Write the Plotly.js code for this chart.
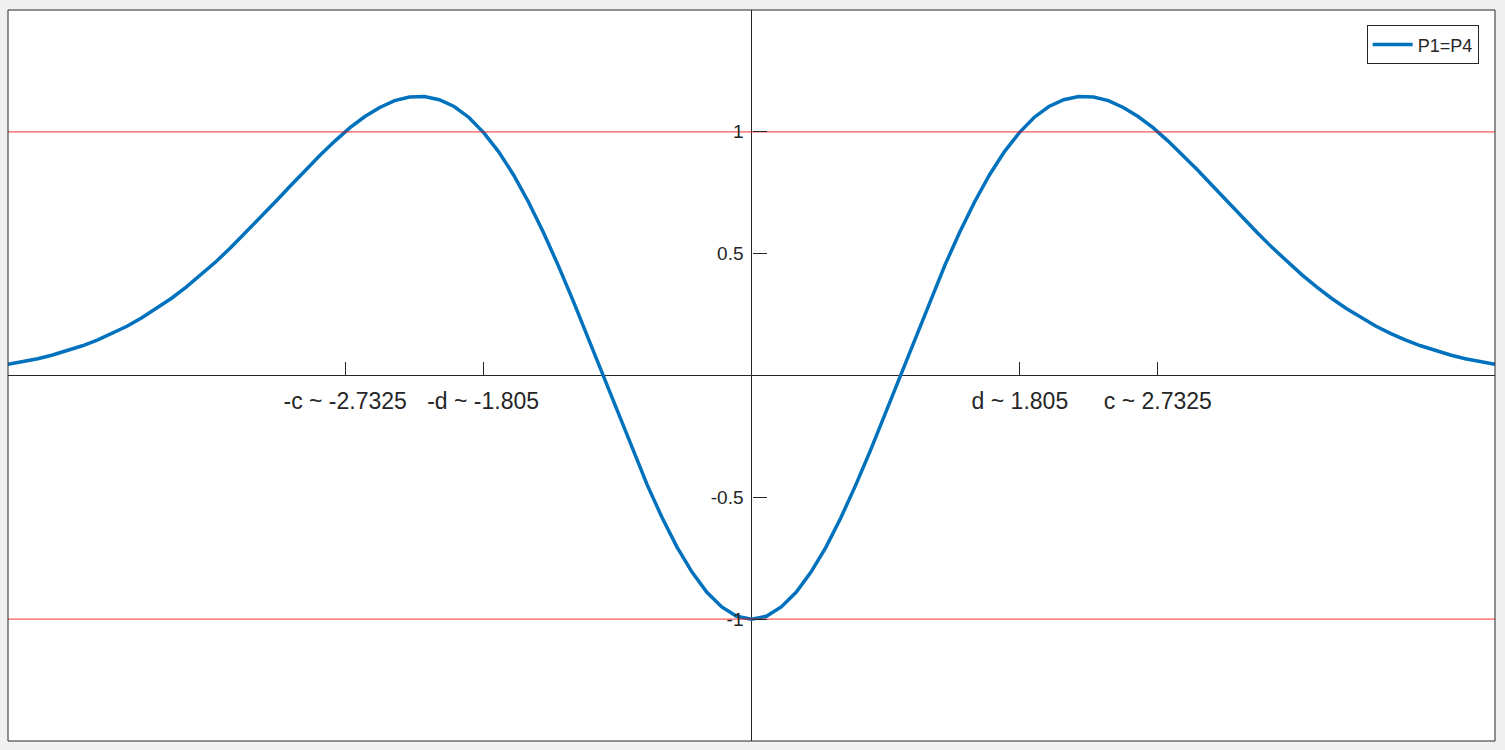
<!DOCTYPE html>
<html>
<head>
<meta charset="utf-8">
<script src="https://cdn.plot.ly/plotly-3.0.1.min.js"></script>
<style>
  body { margin: 0; background: #f0f0f0; }
  #plot { width: 1505px; height: 750px; }
</style>
</head>
<body>
<div id="plot"></div>
<script>
// sample points of the curve, x from 0 to 5 in steps of 0.1
var xPos = [0, 0.1, 0.2, 0.3, 0.4, 0.5, 0.6, 0.7, 0.8, 0.9,
            1.0, 1.1, 1.2, 1.3, 1.4, 1.5, 1.6, 1.7, 1.8, 1.9,
            2.0, 2.1, 2.2, 2.3, 2.4, 2.5, 2.6, 2.7, 2.8, 2.9,
            3.0, 3.1, 3.2, 3.3, 3.4, 3.5, 3.6, 3.7, 3.8, 3.9,
            4.0, 4.1, 4.2, 4.3, 4.4, 4.5, 4.6, 4.7, 4.8, 4.9, 5.0];
var yPos = [-1.000, -0.988, -0.950, -0.890, -0.807, -0.705, -0.585, -0.451, -0.307, -0.155,
            0.000, 0.155, 0.307, 0.452, 0.588, 0.712, 0.823, 0.918, 0.996, 1.059,
            1.104, 1.132, 1.145, 1.143, 1.128, 1.100, 1.063, 1.017, 0.963, 0.905,
            0.843, 0.779, 0.714, 0.650, 0.587, 0.526, 0.468, 0.414, 0.364, 0.317,
            0.275, 0.237, 0.202, 0.172, 0.145, 0.122, 0.102, 0.084, 0.069, 0.057, 0.046];

// curve is symmetric, mirror the right half onto the left
var xs = [], ys = [];
for (var i = xPos.length - 1; i > 0; i--) { xs.push(-xPos[i]); ys.push(yPos[i]); }
for (var j = 0; j < xPos.length; j++) { xs.push(xPos[j]); ys.push(yPos[j]); }

var refLevels = [1, -1];
var xTickVals = [-2.7325, -1.805, 1.805, 2.7325];
var xTickText = ['-c ~ -2.7325', '-d ~ -1.805', 'd ~ 1.805', 'c ~ 2.7325'];
var yTickVals = [-1, -0.5, 0.5, 1];
var yTickText = ['-1', '-0.5', '0.5', '1'];

var curve = {
    name: 'P1=P4',
    x: xs,
    y: ys,
    mode: 'lines',
    line: { color: '#0072BD', width: 3.5 }
};

var data = [curve];
refLevels.forEach(function(v) {
    data.push({
        x: [-5, 5],
        y: [v, v],
        mode: 'lines',
        showlegend: false,
        hoverinfo: 'skip',
        line: { color: 'rgba(255,0,0,0.65)', width: 1.3 }
    });
});

var layout = {
    width: 1505,
    height: 750,
    margin: { l: 8, r: 10, t: 10, b: 9 },
    paper_bgcolor: '#f0f0f0',
    plot_bgcolor: 'white',
    font: { family: 'Liberation Sans, Arial, sans-serif', color: '#262626' },
    showlegend: true,
    legend: {
        x: 0.989, y: 0.979,
        xanchor: 'right', yanchor: 'top',
        bgcolor: 'white',
        bordercolor: '#262626',
        borderwidth: 1,
        font: { size: 18, color: '#262626' },
        itemwidth: 40,
        tracegroupgap: 0
    },
    xaxis: {
        range: [-5, 5],
        anchor: 'free',
        position: 0.5,
        showgrid: false,
        showline: false,
        zeroline: true,
        zerolinecolor: '#262626',
        zerolinewidth: 1,
        tickmode: 'array',
        tickvals: xTickVals,
        ticktext: xTickText,
        ticks: 'inside',
        ticklen: 14,
        tickcolor: '#262626',
        ticklabelstandoff: 9,
        tickfont: { size: 23, color: '#262626' }
    },
    yaxis: {
        range: [-1.5, 1.5],
        anchor: 'free',
        position: 0.5,
        showgrid: false,
        showline: false,
        zeroline: true,
        zerolinecolor: '#262626',
        zerolinewidth: 1,
        tickmode: 'array',
        tickvals: yTickVals,
        ticktext: yTickText,
        ticks: 'inside',
        ticklen: 14,
        tickcolor: '#262626',
        ticklabelstandoff: 8,
        tickfont: { size: 19, color: '#262626' }
    },
    shapes: [{
        type: 'rect',
        xref: 'paper', yref: 'paper',
        x0: 0, x1: 1, y0: 0, y1: 1,
        line: { color: '#262626', width: 1 }
    }]
};

Plotly.newPlot('plot', data, layout, { displayModeBar: false });
</script>
</body>
</html>
